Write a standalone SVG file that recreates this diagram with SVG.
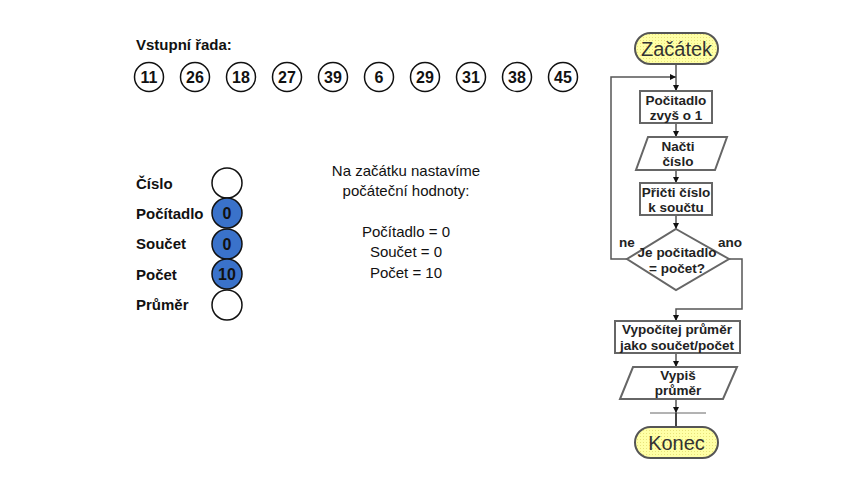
<svg xmlns="http://www.w3.org/2000/svg" width="866" height="497" viewBox="0 0 866 497">
<defs>
<marker id="ah" viewBox="0 0 10 10" refX="10" refY="5" markerWidth="6" markerHeight="6" markerUnits="userSpaceOnUse" orient="auto">
<path d="M0,0 L10,5 L0,10 Z" fill="#111"/>
</marker>
<pattern id="dots" width="3" height="3" patternUnits="userSpaceOnUse">
<rect width="3" height="3" fill="#FFFFA6"/>
<rect x="1" y="1" width="1" height="1" fill="#E8E27A"/>
</pattern>
</defs>
<style>
.lbl{font-family:"Liberation Sans",Arial,sans-serif;font-weight:bold;font-size:15px;fill:#111}
.num{font-family:"Liberation Sans",Arial,sans-serif;font-weight:bold;font-size:16px;fill:#111;text-anchor:middle}
.wc{fill:#fff;stroke:#111;stroke-width:1.5}
.bc{fill:#3A72CA;stroke:#111;stroke-width:1.5}
.mid{font-family:"Liberation Sans",Arial,sans-serif;font-size:15px;fill:#111;text-anchor:middle}
.box{fill:#fff;stroke:#666;stroke-width:2}
.term{fill:url(#dots);stroke:#555;stroke-width:2}
.ft{font-family:"Liberation Sans",Arial,sans-serif;font-weight:bold;font-size:13.5px;fill:#222;text-anchor:middle}
.tt{font-family:"Liberation Sans",Arial,sans-serif;font-size:20px;fill:#333;text-anchor:middle}
.con{fill:none;stroke:#555;stroke-width:1.5}
</style>
<rect width="866" height="497" fill="#fff"/>

<g id="input-row">
<text class="lbl" x="136" y="50">Vstupní řada:</text>
<circle class="wc" cx="149" cy="77" r="14.5"/><text class="num" x="149" y="83">11</text>
<circle class="wc" cx="195" cy="77" r="14.5"/><text class="num" x="195" y="83">26</text>
<circle class="wc" cx="241" cy="77" r="14.5"/><text class="num" x="241" y="83">18</text>
<circle class="wc" cx="287" cy="77" r="14.5"/><text class="num" x="287" y="83">27</text>
<circle class="wc" cx="333" cy="77" r="14.5"/><text class="num" x="333" y="83">39</text>
<circle class="wc" cx="379" cy="77" r="14.5"/><text class="num" x="379" y="83">6</text>
<circle class="wc" cx="425" cy="77" r="14.5"/><text class="num" x="425" y="83">29</text>
<circle class="wc" cx="471" cy="77" r="14.5"/><text class="num" x="471" y="83">31</text>
<circle class="wc" cx="517" cy="77" r="14.5"/><text class="num" x="517" y="83">38</text>
<circle class="wc" cx="563" cy="77" r="14.5"/><text class="num" x="563" y="83">45</text>
</g>

<g id="variables">
<text class="lbl" x="136" y="189">Číslo</text>
<circle class="wc" cx="227" cy="183" r="15"/>
<text class="lbl" x="136" y="219">Počítadlo</text>
<circle class="bc" cx="227" cy="213" r="15"/><text class="num" x="227" y="219">0</text>
<text class="lbl" x="136" y="249">Součet</text>
<circle class="bc" cx="227" cy="244" r="15"/><text class="num" x="227" y="250">0</text>
<text class="lbl" x="136" y="280">Počet</text>
<circle class="bc" cx="227" cy="274" r="15"/><text class="num" x="227" y="280">10</text>
<text class="lbl" x="136" y="310">Průměr</text>
<circle class="wc" cx="227" cy="305" r="15"/>
</g>

<g id="note">
<text class="mid" x="406" y="176">Na začátku nastavíme</text>
<text class="mid" x="406" y="196">počáteční hodnoty:</text>
<text class="mid" x="406" y="237">Počítadlo = 0</text>
<text class="mid" x="406" y="257">Součet = 0</text>
<text class="mid" x="406" y="278">Počet = 10</text>
</g>

<g id="connectors">
<line class="con" x1="676" y1="64" x2="676" y2="91" marker-end="url(#ah)"/>
<polyline class="con" points="627,259 611,259 611,77 676,77" marker-end="url(#ah)"/>
<line class="con" x1="676" y1="123" x2="676" y2="137" marker-end="url(#ah)"/>
<line class="con" x1="676" y1="170" x2="676" y2="183" marker-end="url(#ah)"/>
<line class="con" x1="676" y1="215" x2="676" y2="229" marker-end="url(#ah)"/>
<polyline class="con" points="729,259 742,259 742,309 676,309 676,321" marker-end="url(#ah)"/>
<line class="con" x1="676" y1="353" x2="676" y2="367" marker-end="url(#ah)"/>
<line class="con" x1="676" y1="399" x2="676" y2="413" marker-end="url(#ah)"/>
<line x1="650" y1="413" x2="706" y2="413" stroke="#666" stroke-width="1"/>
<line x1="676" y1="413" x2="676" y2="427" stroke="#444" stroke-width="2"/>
</g>

<g id="start">
<rect class="term" x="635" y="33" width="83" height="31" rx="15.5"/>
<text class="tt" x="676.5" y="55.5">Začátek</text>
</g>
<g id="inc-counter">
<rect class="box" x="640" y="91" width="72" height="32"/>
<text class="ft" x="676" y="104.5">Počitadlo</text>
<text class="ft" x="676" y="119.5">zvyš o 1</text>
</g>
<g id="read-number">
<polygon class="box" points="648,137 727,137 715,170 636,170"/>
<text class="ft" x="678" y="150.5">Načti</text>
<text class="ft" x="678" y="166">číslo</text>
</g>
<g id="add-sum">
<rect class="box" x="640" y="183" width="72" height="32"/>
<text class="ft" x="676" y="196.5">Přičti číslo</text>
<text class="ft" x="676" y="212">k součtu</text>
</g>
<g id="decision">
<polygon class="box" points="676,229 729,259 676,290 627,259"/>
<text class="ft" x="677" y="257">Je počitadlo</text>
<text class="ft" x="677" y="273">= počet?</text>
<text class="ft" x="627" y="247">ne</text>
<text class="ft" x="730" y="247">ano</text>
</g>
<g id="compute-avg">
<rect class="box" x="615" y="321" width="125" height="32"/>
<text class="ft" x="677" y="334">Vypočítej průměr</text>
<text class="ft" x="677" y="350">jako součet/počet</text>
</g>
<g id="print-avg">
<polygon class="box" points="633,367 737,367 723,399 620,399"/>
<text class="ft" x="678" y="379.5">Vypiš</text>
<text class="ft" x="678" y="395">průměr</text>
</g>
<g id="end">
<rect class="term" x="635" y="427" width="83" height="31" rx="15.5"/>
<text class="tt" x="676.5" y="449.5">Konec</text>
</g>
</svg>
